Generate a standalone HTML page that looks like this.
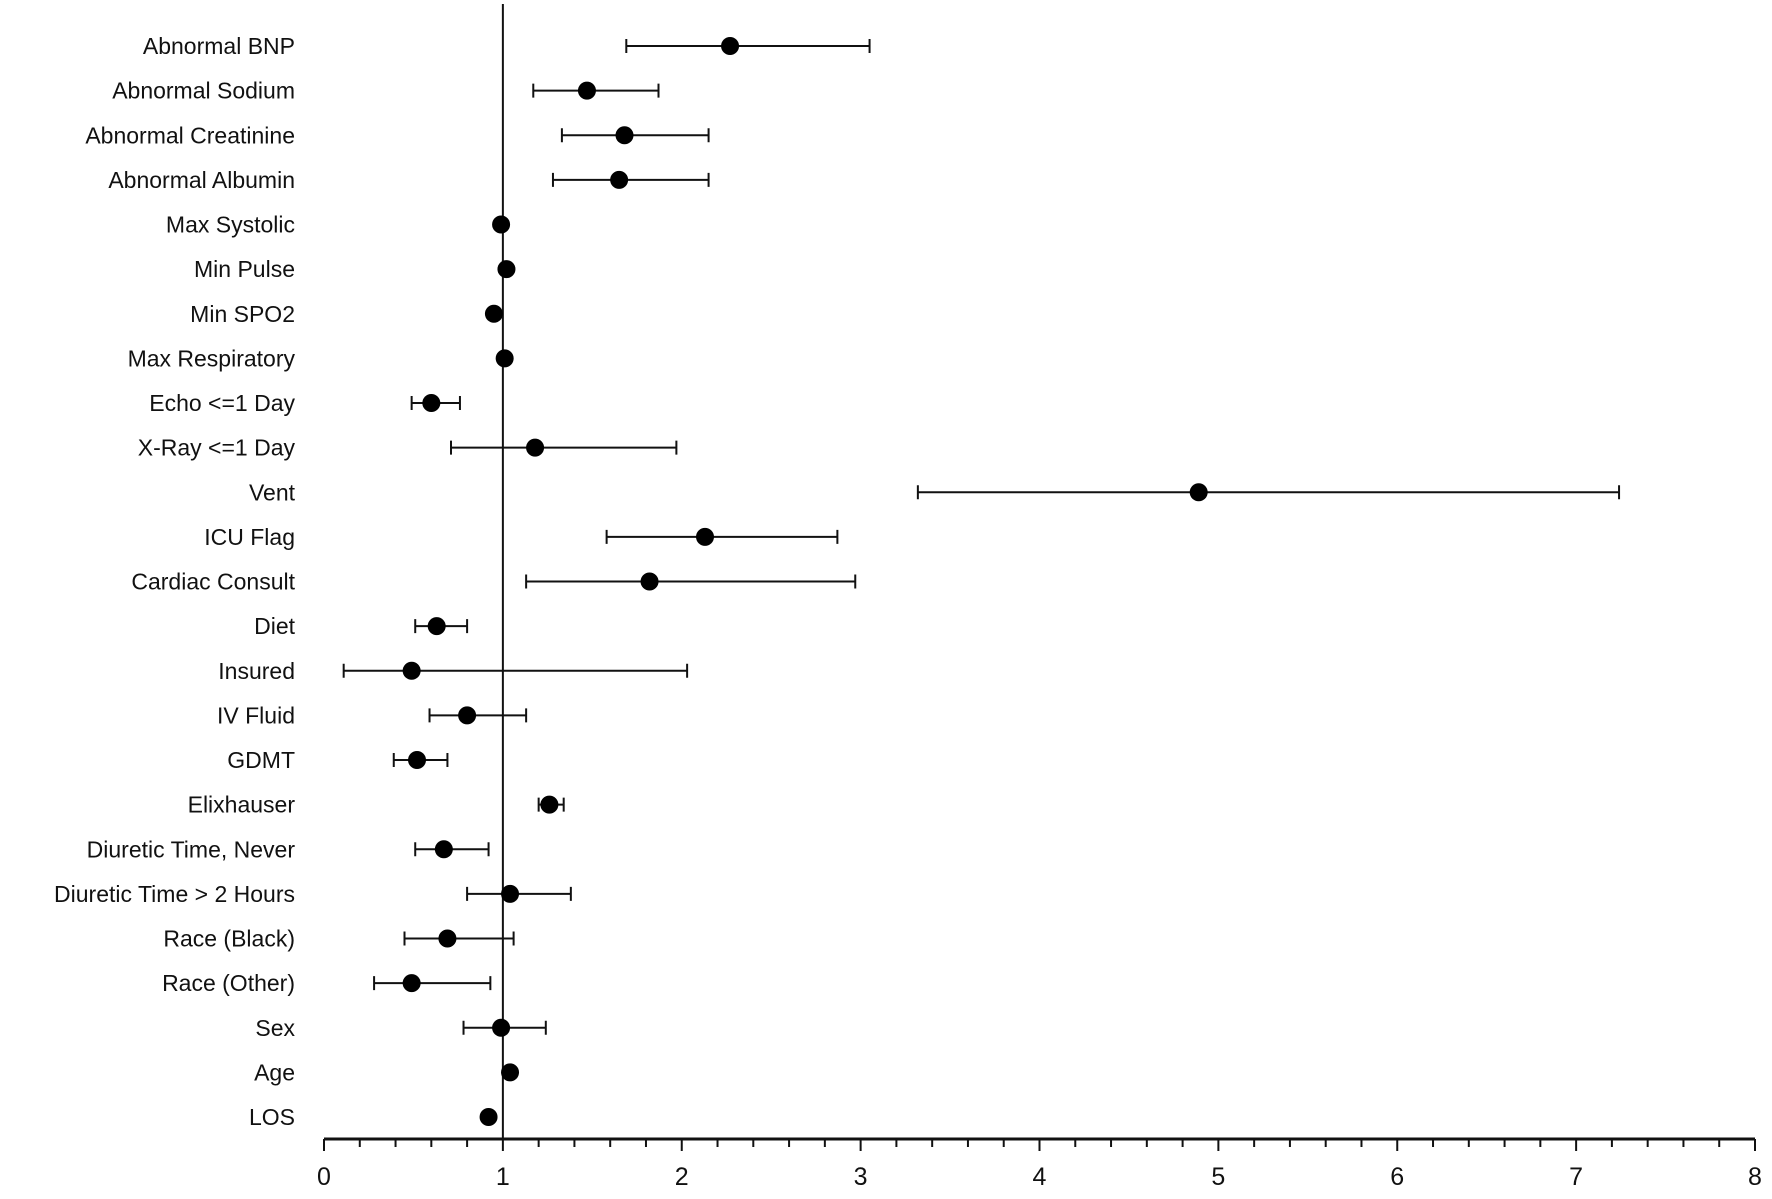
<!DOCTYPE html>
<html><head><meta charset="utf-8"><style>
html,body{margin:0;padding:0;background:#fff;}
svg{display:block;}
text{font-family:"Liberation Sans",sans-serif;fill:#111;}
</style></head><body>
<svg id="chart" width="1772" height="1199" viewBox="0 0 1772 1199" xmlns="http://www.w3.org/2000/svg"></svg>
<script>
const labels=["Abnormal BNP","Abnormal Sodium","Abnormal Creatinine","Abnormal Albumin","Max Systolic","Min Pulse","Min SPO2","Max Respiratory","Echo <=1 Day","X-Ray <=1 Day","Vent","ICU Flag","Cardiac Consult","Diet","Insured","IV Fluid","GDMT","Elixhauser","Diuretic Time, Never","Diuretic Time > 2 Hours","Race (Black)","Race (Other)","Sex","Age","LOS"];
const estimates=[2.27,1.47,1.68,1.65,0.99,1.02,0.95,1.01,0.60,1.18,4.89,2.13,1.82,0.63,0.49,0.80,0.52,1.26,0.67,1.04,0.69,0.49,0.99,1.04,0.92];
const lowerCI=[1.69,1.17,1.33,1.28,0.98,1.01,0.94,1.00,0.49,0.71,3.32,1.58,1.13,0.51,0.11,0.59,0.39,1.20,0.51,0.80,0.45,0.28,0.78,1.03,0.91];
const upperCI=[3.05,1.87,2.15,2.15,1.00,1.03,0.96,1.02,0.76,1.97,7.24,2.87,2.97,0.80,2.03,1.13,0.69,1.34,0.92,1.38,1.06,0.93,1.24,1.05,0.93];
const xTicks=[0,1,2,3,4,5,6,7,8];

const svg=document.getElementById('chart');
const NS='http://www.w3.org/2000/svg';
const x0=324,x1=1755,xmin=0,xmax=8;
const xs=v=>x0+(v-xmin)/(xmax-xmin)*(x1-x0);
const yTop=46,yBot=1117;
const ys=i=>yTop+i*(yBot-yTop)/(labels.length-1);
const axisY=1139;
function mk(tag,attrs){const e=document.createElementNS(NS,tag);for(const k in attrs)e.setAttribute(k,attrs[k]);svg.appendChild(e);return e;}

// reference line at 1
let ref=mk('line',{x1:xs(1),x2:xs(1),y1:4,y2:axisY,stroke:'#111','stroke-width':2});



// x axis
let ax=mk('line',{x1:x0,x2:x1,y1:axisY,y2:axisY,stroke:'#111','stroke-width':3});


for(let v=xmin;v<=xmax+1e-9;v+=0.2){
  const major=Math.abs(v-Math.round(v))<1e-6;
  let t=mk('line',{x1:xs(v),x2:xs(v),y1:axisY,y2:axisY+(major?12:8),stroke:'#111','stroke-width':2});
  
  
}
xTicks.forEach(v=>{
  let t=mk('text',{x:xs(v),y:1185,'text-anchor':'middle','font-size':25});
  t.textContent=String(v);
  
  
});

labels.forEach((lab,i)=>{
  const y=ys(i);
  let t=mk('text',{x:295,y:y+8,'text-anchor':'end','font-size':23});
  t.textContent=lab;
  
  
  const g=document.createElementNS(NS,'g');svg.appendChild(g);
  
  
  const add=(tag,a)=>{const e=document.createElementNS(NS,tag);for(const k in a)e.setAttribute(k,a[k]);g.appendChild(e);return e;};
  add('line',{x1:xs(lowerCI[i]),x2:xs(upperCI[i]),y1:y,y2:y,stroke:'#111','stroke-width':2});
  add('line',{x1:xs(lowerCI[i]),x2:xs(lowerCI[i]),y1:y-7,y2:y+7,stroke:'#111','stroke-width':2});
  add('line',{x1:xs(upperCI[i]),x2:xs(upperCI[i]),y1:y-7,y2:y+7,stroke:'#111','stroke-width':2});
  add('circle',{cx:xs(estimates[i]),cy:y,r:9,fill:'#000'});
});
</script>
</body></html>
